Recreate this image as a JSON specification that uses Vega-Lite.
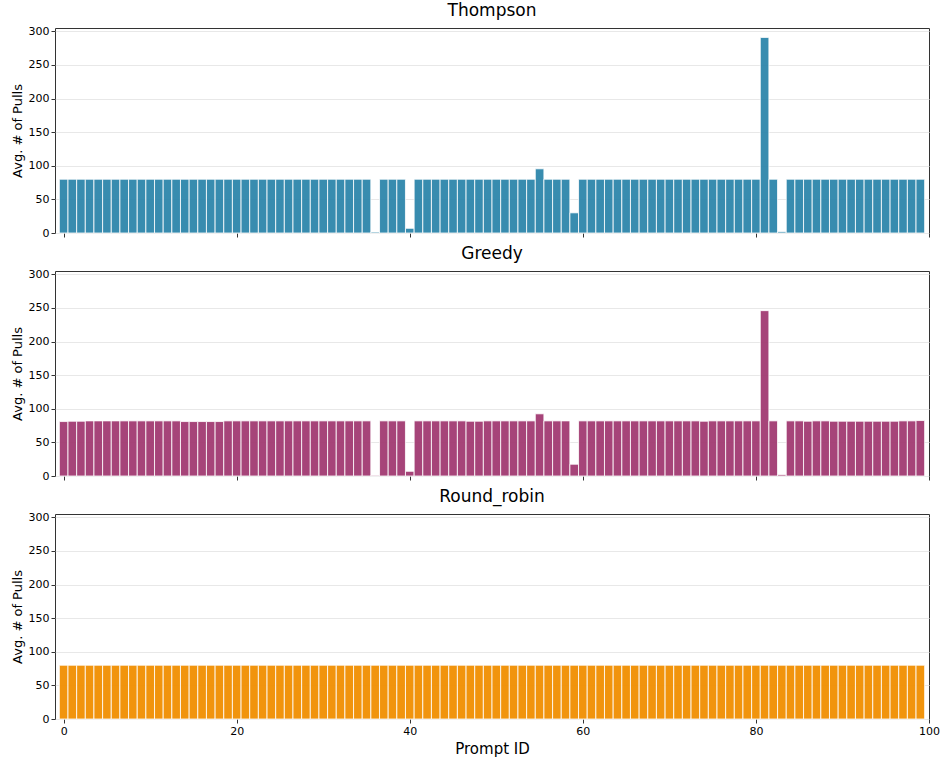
{
  "$schema": "https://vega.github.io/schema/vega-lite/v6.json",
  "padding": {"left": 10, "top": 1, "right": 3, "bottom": 14},
  "background": "white",
  "spacing": 5,
  "config": {
    "font": "DejaVu Sans",
    "view": {"stroke": "#333333", "strokeWidth": 1},
    "axis": {
      "labelFont": "DejaVu Sans", "titleFont": "DejaVu Sans",
      "labelColor": "#000000", "titleColor": "#000000",
      "tickColor": "#333333", "domainColor": "#333333",
      "labelFontSize": 11, "titleFontSize": 13, "titleFontWeight": "normal",
      "tickSize": 4, "labelFlush": false
    },
    "title": {"font": "DejaVu Sans", "fontSize": 17, "fontWeight": "normal", "color": "#000000", "offset": 5}
  },
  "datasets": {
    "thompson": [
      {"id":0,"v":80},{"id":1,"v":80},{"id":2,"v":80},{"id":3,"v":80},{"id":4,"v":80},{"id":5,"v":80},{"id":6,"v":80},{"id":7,"v":80},{"id":8,"v":80},{"id":9,"v":80},
      {"id":10,"v":80},{"id":11,"v":80},{"id":12,"v":80},{"id":13,"v":80},{"id":14,"v":80},{"id":15,"v":80},{"id":16,"v":80},{"id":17,"v":80},{"id":18,"v":80},{"id":19,"v":80},
      {"id":20,"v":80},{"id":21,"v":80},{"id":22,"v":80},{"id":23,"v":80},{"id":24,"v":80},{"id":25,"v":80},{"id":26,"v":80},{"id":27,"v":80},{"id":28,"v":80},{"id":29,"v":80},
      {"id":30,"v":80},{"id":31,"v":80},{"id":32,"v":80},{"id":33,"v":80},{"id":34,"v":80},{"id":35,"v":80},{"id":36,"v":1.5},{"id":37,"v":80},{"id":38,"v":80},{"id":39,"v":80},
      {"id":40,"v":7},{"id":41,"v":80},{"id":42,"v":80},{"id":43,"v":80},{"id":44,"v":80},{"id":45,"v":80},{"id":46,"v":80},{"id":47,"v":80},{"id":48,"v":80},{"id":49,"v":80},
      {"id":50,"v":80},{"id":51,"v":80},{"id":52,"v":80},{"id":53,"v":80},{"id":54,"v":80},{"id":55,"v":95.5},{"id":56,"v":80},{"id":57,"v":80},{"id":58,"v":80},{"id":59,"v":30},
      {"id":60,"v":80},{"id":61,"v":80},{"id":62,"v":80},{"id":63,"v":80},{"id":64,"v":80},{"id":65,"v":80},{"id":66,"v":80},{"id":67,"v":80},{"id":68,"v":80},{"id":69,"v":80},
      {"id":70,"v":80},{"id":71,"v":80},{"id":72,"v":80},{"id":73,"v":80},{"id":74,"v":80},{"id":75,"v":80},{"id":76,"v":80},{"id":77,"v":80},{"id":78,"v":80},{"id":79,"v":80},
      {"id":80,"v":80},{"id":81,"v":291},{"id":82,"v":80},{"id":83,"v":2},{"id":84,"v":80},{"id":85,"v":80},{"id":86,"v":80},{"id":87,"v":80},{"id":88,"v":80},{"id":89,"v":80},
      {"id":90,"v":80},{"id":91,"v":80},{"id":92,"v":80},{"id":93,"v":80},{"id":94,"v":80},{"id":95,"v":80},{"id":96,"v":80},{"id":97,"v":80},{"id":98,"v":80},{"id":99,"v":80}
    ],
    "greedy": [
      {"id":0,"v":81},{"id":1,"v":81.5},{"id":2,"v":81.5},{"id":3,"v":82},{"id":4,"v":82},{"id":5,"v":82},{"id":6,"v":82},{"id":7,"v":82},{"id":8,"v":82},{"id":9,"v":82},
      {"id":10,"v":82},{"id":11,"v":82},{"id":12,"v":82},{"id":13,"v":82},{"id":14,"v":81},{"id":15,"v":81},{"id":16,"v":81},{"id":17,"v":81},{"id":18,"v":81},{"id":19,"v":82},
      {"id":20,"v":82},{"id":21,"v":82},{"id":22,"v":82},{"id":23,"v":82},{"id":24,"v":82},{"id":25,"v":82},{"id":26,"v":82},{"id":27,"v":82},{"id":28,"v":82},{"id":29,"v":82},
      {"id":30,"v":82},{"id":31,"v":82},{"id":32,"v":82},{"id":33,"v":82},{"id":34,"v":82},{"id":35,"v":82},{"id":36,"v":1},{"id":37,"v":82},{"id":38,"v":82},{"id":39,"v":82},
      {"id":40,"v":7},{"id":41,"v":82},{"id":42,"v":82},{"id":43,"v":82},{"id":44,"v":82},{"id":45,"v":82},{"id":46,"v":82},{"id":47,"v":81.5},{"id":48,"v":81.5},{"id":49,"v":82},
      {"id":50,"v":82},{"id":51,"v":82},{"id":52,"v":82},{"id":53,"v":82},{"id":54,"v":82},{"id":55,"v":92.5},{"id":56,"v":82},{"id":57,"v":82},{"id":58,"v":82},{"id":59,"v":17.5},
      {"id":60,"v":82},{"id":61,"v":82},{"id":62,"v":82},{"id":63,"v":82},{"id":64,"v":82},{"id":65,"v":82},{"id":66,"v":82},{"id":67,"v":82},{"id":68,"v":82},{"id":69,"v":82},
      {"id":70,"v":82},{"id":71,"v":82},{"id":72,"v":82},{"id":73,"v":82},{"id":74,"v":81.5},{"id":75,"v":82},{"id":76,"v":82},{"id":77,"v":82},{"id":78,"v":82},{"id":79,"v":82},
      {"id":80,"v":82},{"id":81,"v":246},{"id":82,"v":82},{"id":83,"v":2},{"id":84,"v":82},{"id":85,"v":82},{"id":86,"v":81.5},{"id":87,"v":82},{"id":88,"v":82},{"id":89,"v":81.5},
      {"id":90,"v":81.5},{"id":91,"v":81.5},{"id":92,"v":81.5},{"id":93,"v":81.5},{"id":94,"v":81.5},{"id":95,"v":81.5},{"id":96,"v":81.5},{"id":97,"v":82},{"id":98,"v":82},{"id":99,"v":82.5}
    ],
    "rr": [
      {"id":0,"v":80},{"id":1,"v":80},{"id":2,"v":80},{"id":3,"v":80},{"id":4,"v":80},{"id":5,"v":80},{"id":6,"v":80},{"id":7,"v":80},{"id":8,"v":80},{"id":9,"v":80},
      {"id":10,"v":80},{"id":11,"v":80},{"id":12,"v":80},{"id":13,"v":80},{"id":14,"v":80},{"id":15,"v":80},{"id":16,"v":80},{"id":17,"v":80},{"id":18,"v":80},{"id":19,"v":80},
      {"id":20,"v":80},{"id":21,"v":80},{"id":22,"v":80},{"id":23,"v":80},{"id":24,"v":80},{"id":25,"v":80},{"id":26,"v":80},{"id":27,"v":80},{"id":28,"v":80},{"id":29,"v":80},
      {"id":30,"v":80},{"id":31,"v":80},{"id":32,"v":80},{"id":33,"v":80},{"id":34,"v":80},{"id":35,"v":80},{"id":36,"v":80},{"id":37,"v":80},{"id":38,"v":80},{"id":39,"v":80},
      {"id":40,"v":80},{"id":41,"v":80},{"id":42,"v":80},{"id":43,"v":80},{"id":44,"v":80},{"id":45,"v":80},{"id":46,"v":80},{"id":47,"v":80},{"id":48,"v":80},{"id":49,"v":80},
      {"id":50,"v":80},{"id":51,"v":80},{"id":52,"v":80},{"id":53,"v":80},{"id":54,"v":80},{"id":55,"v":80},{"id":56,"v":80},{"id":57,"v":80},{"id":58,"v":80},{"id":59,"v":80},
      {"id":60,"v":80},{"id":61,"v":80},{"id":62,"v":80},{"id":63,"v":80},{"id":64,"v":80},{"id":65,"v":80},{"id":66,"v":80},{"id":67,"v":80},{"id":68,"v":80},{"id":69,"v":80},
      {"id":70,"v":80},{"id":71,"v":80},{"id":72,"v":80},{"id":73,"v":80},{"id":74,"v":80},{"id":75,"v":80},{"id":76,"v":80},{"id":77,"v":80},{"id":78,"v":80},{"id":79,"v":80},
      {"id":80,"v":80},{"id":81,"v":80},{"id":82,"v":80},{"id":83,"v":80},{"id":84,"v":80},{"id":85,"v":80},{"id":86,"v":80},{"id":87,"v":80},{"id":88,"v":80},{"id":89,"v":80},
      {"id":90,"v":80},{"id":91,"v":80},{"id":92,"v":80},{"id":93,"v":80},{"id":94,"v":80},{"id":95,"v":80},{"id":96,"v":80},{"id":97,"v":80},{"id":98,"v":80},{"id":99,"v":80}
    ]
  },
  "vconcat": [
    {
      "title": "Thompson",
      "width": 874, "height": 205,
      "data": {"name": "thompson"},
      "mark": {"type": "bar", "size": 8.6, "color": "#2E86AB", "opacity": 0.95, "stroke": "white", "strokeWidth": 0.8},
      "encoding": {
        "x": {"field": "id", "type": "quantitative", "scale": {"domain": [-1, 100], "nice": false, "zero": false, "padding": 0},
              "axis": {"values": [0, 20, 40, 60, 80, 100], "labels": false, "title": null, "grid": false, "domain": false}},
        "y": {"field": "v", "type": "quantitative", "scale": {"domain": [0, 305], "nice": false},
              "axis": {"values": [0, 50, 100, 150, 200, 250, 300], "title": "Avg. # of Pulls", "gridColor": "#e8e8e8", "domain": false}}
      }
    },
    {
      "title": "Greedy",
      "width": 874, "height": 205,
      "data": {"name": "greedy"},
      "mark": {"type": "bar", "size": 8.6, "color": "#A23B72", "opacity": 0.95, "stroke": "white", "strokeWidth": 0.8},
      "encoding": {
        "x": {"field": "id", "type": "quantitative", "scale": {"domain": [-1, 100], "nice": false, "zero": false, "padding": 0},
              "axis": {"values": [0, 20, 40, 60, 80, 100], "labels": false, "title": null, "grid": false, "domain": false}},
        "y": {"field": "v", "type": "quantitative", "scale": {"domain": [0, 305], "nice": false},
              "axis": {"values": [0, 50, 100, 150, 200, 250, 300], "title": "Avg. # of Pulls", "gridColor": "#e8e8e8", "domain": false}}
      }
    },
    {
      "title": "Round_robin",
      "width": 874, "height": 205,
      "data": {"name": "rr"},
      "mark": {"type": "bar", "size": 8.6, "color": "#F18F01", "opacity": 0.95, "stroke": "white", "strokeWidth": 0.8},
      "encoding": {
        "x": {"field": "id", "type": "quantitative", "scale": {"domain": [-1, 100], "nice": false, "zero": false, "padding": 0},
              "axis": {"values": [0, 20, 40, 60, 80, 100], "title": "Prompt ID", "titleFontSize": 15, "titlePadding": 5, "grid": false, "domain": false}},
        "y": {"field": "v", "type": "quantitative", "scale": {"domain": [0, 305], "nice": false},
              "axis": {"values": [0, 50, 100, 150, 200, 250, 300], "title": "Avg. # of Pulls", "gridColor": "#e8e8e8", "domain": false}}
      }
    }
  ]
}
